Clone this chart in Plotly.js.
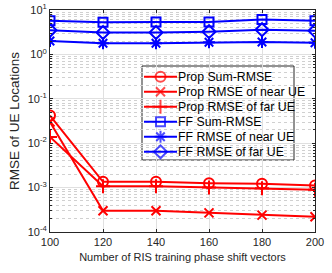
<!DOCTYPE html>
<html><head><meta charset="utf-8">
<script src="https://cdn.plot.ly/plotly-3.0.1.min.js"></script>
<style>html,body{margin:0;padding:0;background:#fff}#c{width:332px;height:273px}</style>
</head><body><div id="c"></div>
<script>
const xVals = [100, 120, 140, 160, 180, 200];
const propSum = [0.042, 1.35e-3, 1.35e-3, 1.25e-3, 1.22e-3, 1.12e-3];
const propNear = [0.030, 3.0e-4, 3.0e-4, 2.7e-4, 2.4e-4, 2.2e-4];
const propFar = [0.0138, 1.07e-3, 1.07e-3, 1.0e-3, 0.97e-3, 0.9e-3];
const ffSum = [5.7, 5.3, 5.4, 5.4, 6.1, 5.7];
const ffNear = [2.0, 1.78, 1.78, 1.87, 1.9, 1.83];
const ffFar = [3.5, 3.1, 3.1, 3.25, 3.6, 3.4];
const names = ['Prop Sum-RMSE','Prop RMSE of near UE','Prop RMSE of far UE','FF Sum-RMSE','FF RMSE of near UE','FF RMSE of far UE'];
const xTickVals = [100, 120, 140, 160, 180, 200];
const yTickVals = [1e-4, 1e-3, 1e-2, 1e-1, 1, 10];
const yTickText = ['10<sup>-4</sup>','10<sup>-3</sup>','10<sup>-2</sup>','10<sup>-1</sup>','10<sup>0</sup>','10<sup>1</sup>'];

const series = [propSum, propNear, propFar, ffSum, ffNear, ffFar];
const colors = ['#ff0000','#ff0000','#ff0000','#0000ff','#0000ff','#0000ff'];
const symbols = ['circle-open','x-thin-open','cross-thin-open','square-open','asterisk-open','diamond-open'];
const msizes = [10, 9, 10, 9, 10, 10];

// plot area in pixels
const L = 50, R = 315, T = 10, B = 232;
const W = 332, H = 273;
const px = x => (x - L) / (R - L);
const py = y => (B - y) / (B - T);

const traces = series.map((s,i)=>({
  x: xVals, y: s, name: names[i], type:'scatter', mode:'lines+markers', showlegend:false,
  line:{color:colors[i], width:2},
  marker:{symbol:symbols[i], size:msizes[i], color:colors[i], line:{color:colors[i], width:2}}
}));

// custom legend (MATLAB-like compact spacing)
const legBox = {x0:142, x1:294, y0:66, y1:160};
const rowH = 15, row0 = 76.8;
const sampleX0 = 144, sampleX1 = 177, textX = 177;
const annotations = [];
names.forEach((n,i)=>{
  const cy = row0 + i*rowH;
  traces.push({
    x:[px(sampleX0), px((sampleX0+sampleX1)/2), px(sampleX1)], y:[py(cy),py(cy),py(cy)],
    xaxis:'x2', yaxis:'y2', type:'scatter', mode:'lines+markers', showlegend:false, cliponaxis:false,
    line:{color:colors[i], width:2},
    marker:{symbol:symbols[i], size:[0,msizes[i],0], color:colors[i], line:{color:colors[i], width:2}},
    hoverinfo:'skip'
  });
  annotations.push({xref:'paper', yref:'paper', x:px(textX), y:py(cy), xanchor:'left', yanchor:'middle',
    text:n, showarrow:false, borderpad:0,
    font:{family:'Liberation Sans, Arial, sans-serif', size:12.3, color:'#000'}});
});

const axFont = {family:'Liberation Sans, Arial, sans-serif', size:11, color:'#262626'};
Plotly.newPlot('c', traces, {
  width:W, height:H,
  margin:{l:L, r:W-R, t:T, b:H-B},
  paper_bgcolor:'#fff', plot_bgcolor:'#fff',
  font: axFont,
  showlegend:false,
  annotations: annotations,
  shapes:[{type:'rect', xref:'paper', yref:'paper', x0:px(legBox.x0), x1:px(legBox.x1), y0:py(legBox.y1), y1:py(legBox.y0),
    fillcolor:'#fff', line:{color:'#262626', width:1}, layer:'between'}],
  xaxis:{range:[100,200], tickvals:xTickVals, ticks:'inside', ticklen:3, tickcolor:'#262626',
    showgrid:true, gridcolor:'#e0e0e0', gridwidth:1, showline:true, linecolor:'#262626', linewidth:1, mirror:'ticks',
    zeroline:false, tickfont:axFont,
    title:{text:'Number of RIS training phase shift vectors', font:axFont, standoff:6}},
  yaxis:{type:'log', range:[-4,1], tickvals:yTickVals, ticktext:yTickText, ticks:'inside', ticklen:3, tickcolor:'#262626',
    showgrid:true, gridcolor:'#e0e0e0', gridwidth:1, showline:true, linecolor:'#262626', linewidth:1, mirror:'ticks',
    zeroline:false, tickfont:axFont,
    minor:{dtick:'D1', showgrid:true, gridcolor:'#d0d0d0', griddash:'dot', gridwidth:1, ticks:'inside', ticklen:2, tickcolor:'#262626'},
    title:{text:'RMSE of UE Locations', font:{family:'Liberation Sans, Arial, sans-serif', size:13.5, color:'#262626'}, standoff:4}},
  xaxis2:{overlaying:'x', range:[0,1], visible:false, fixedrange:true},
  yaxis2:{overlaying:'y', range:[0,1], visible:false, fixedrange:true}
}, {displayModeBar:false, staticPlot:true});
</script></body></html>
